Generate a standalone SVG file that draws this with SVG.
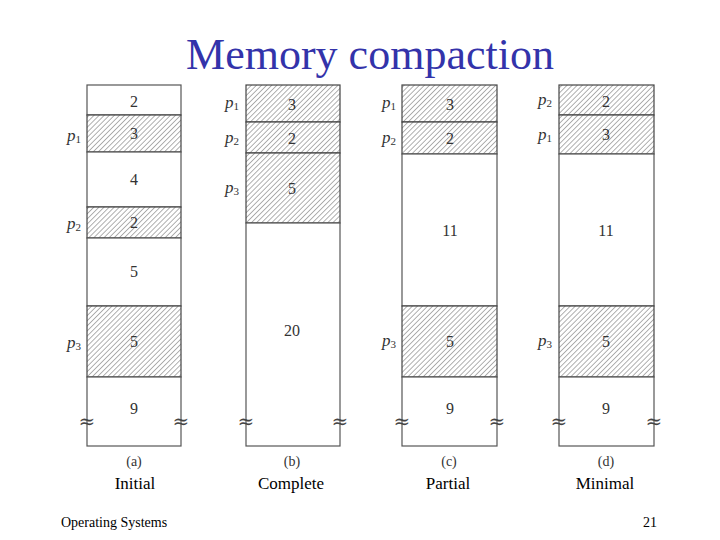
<svg xmlns="http://www.w3.org/2000/svg" width="720" height="540" viewBox="0 0 720 540">
  <defs>
    <pattern id="hatch" patternUnits="userSpaceOnUse" width="3.6" height="3.6" patternTransform="rotate(45)">
      <rect width="3.6" height="3.6" fill="#ffffff"/>
      <line x1="0" y1="0" x2="0" y2="3.6" stroke="#3a3a3a" stroke-width="0.8"/>
    </pattern>
  </defs>
  <style>
    .free { fill: #ffffff; stroke: #555555; stroke-width: 1.2; }
    .used { fill: url(#hatch); stroke: #444444; stroke-width: 1.2; }
    .num { font-family: "Liberation Serif", "Times New Roman", serif; font-size: 16px; fill: #333333; text-anchor: middle; }
    .p { font-family: "Liberation Serif", "Times New Roman", serif; font-size: 17px; font-style: italic; fill: #333333; text-anchor: end; }
    .sub { font-size: 11px; font-style: normal; }
    .brk { font-family: "DejaVu Serif", serif; font-size: 20px; fill: #444444; text-anchor: middle; }
    .cap { font-family: "Liberation Serif", "Times New Roman", serif; font-size: 14px; fill: #333333; text-anchor: middle; }
    .lbl { font-family: "Liberation Serif", "Times New Roman", serif; font-size: 17px; fill: #000000; text-anchor: middle; }
    .title { font-family: "Liberation Serif", "Times New Roman", serif; font-size: 44px; fill: #3333aa; text-anchor: middle; }
    .foot { font-family: "Liberation Serif", "Times New Roman", serif; font-size: 14px; fill: #000000; }
  </style>
  <rect width="720" height="540" fill="#ffffff"/>
  <text class="title" x="370" y="69">Memory compaction</text>

  <!-- Column (a) Initial -->
  <g id="col-a">
    <g id="a-2"><rect class="free" x="87" y="85" width="94" height="30"/><text class="num" x="134" y="107">2</text></g>
    <g id="a-p1"><rect class="used" x="87" y="115" width="94" height="37"/><text class="num" x="134" y="139">3</text><text class="p" x="81" y="141">p<tspan class="sub" dy="2">1</tspan></text></g>
    <g id="a-4"><rect class="free" x="87" y="152" width="94" height="55"/><text class="num" x="134" y="185">4</text></g>
    <g id="a-p2"><rect class="used" x="87" y="207" width="94" height="31"/><text class="num" x="134" y="228">2</text><text class="p" x="81" y="229">p<tspan class="sub" dy="2">2</tspan></text></g>
    <g id="a-5"><rect class="free" x="87" y="238" width="94" height="68"/><text class="num" x="134" y="277">5</text></g>
    <g id="a-p3"><rect class="used" x="87" y="306" width="94" height="71"/><text class="num" x="134" y="347">5</text><text class="p" x="81" y="348">p<tspan class="sub" dy="2">3</tspan></text></g>
    <g id="a-9"><rect class="free" x="87" y="377" width="94" height="69"/><text class="num" x="134" y="414">9</text>
      <text class="brk" x="87" y="428">≈</text><text class="brk" x="181" y="428">≈</text></g>
    <text class="cap" x="134" y="466">(a)</text>
    <text class="lbl" x="135" y="489">Initial</text>
  </g>

  <!-- Column (b) Complete -->
  <g id="col-b">
    <g id="b-p1"><rect class="used" x="246" y="85" width="94" height="37"/><text class="num" x="292" y="110">3</text><text class="p" x="239" y="108">p<tspan class="sub" dy="2">1</tspan></text></g>
    <g id="b-p2"><rect class="used" x="246" y="122" width="94" height="31"/><text class="num" x="292" y="144">2</text><text class="p" x="239" y="143">p<tspan class="sub" dy="2">2</tspan></text></g>
    <g id="b-p3"><rect class="used" x="246" y="153" width="94" height="70"/><text class="num" x="292" y="194">5</text><text class="p" x="239" y="193">p<tspan class="sub" dy="2">3</tspan></text></g>
    <g id="b-20"><rect class="free" x="246" y="223" width="94" height="223"/><text class="num" x="292" y="336">20</text>
      <text class="brk" x="246" y="428">≈</text><text class="brk" x="340" y="428">≈</text></g>
    <text class="cap" x="292" y="466">(b)</text>
    <text class="lbl" x="291" y="489">Complete</text>
  </g>

  <!-- Column (c) Partial -->
  <g id="col-c">
    <g id="c-p1"><rect class="used" x="402" y="85" width="95" height="37"/><text class="num" x="450" y="110">3</text><text class="p" x="396" y="108">p<tspan class="sub" dy="2">1</tspan></text></g>
    <g id="c-p2"><rect class="used" x="402" y="122" width="95" height="32"/><text class="num" x="450" y="144">2</text><text class="p" x="396" y="143">p<tspan class="sub" dy="2">2</tspan></text></g>
    <g id="c-11"><rect class="free" x="402" y="154" width="95" height="152"/><text class="num" x="450" y="236">11</text></g>
    <g id="c-p3"><rect class="used" x="402" y="306" width="95" height="71"/><text class="num" x="450" y="347">5</text><text class="p" x="396" y="346">p<tspan class="sub" dy="2">3</tspan></text></g>
    <g id="c-9"><rect class="free" x="402" y="377" width="95" height="69"/><text class="num" x="450" y="414">9</text>
      <text class="brk" x="402" y="428">≈</text><text class="brk" x="497" y="428">≈</text></g>
    <text class="cap" x="449" y="466">(c)</text>
    <text class="lbl" x="448" y="489">Partial</text>
  </g>

  <!-- Column (d) Minimal -->
  <g id="col-d">
    <g id="d-p2"><rect class="used" x="559" y="85" width="95" height="30"/><text class="num" x="606" y="107">2</text><text class="p" x="552" y="105">p<tspan class="sub" dy="2">2</tspan></text></g>
    <g id="d-p1"><rect class="used" x="559" y="115" width="95" height="39"/><text class="num" x="606" y="140">3</text><text class="p" x="552" y="140">p<tspan class="sub" dy="2">1</tspan></text></g>
    <g id="d-11"><rect class="free" x="559" y="154" width="95" height="152"/><text class="num" x="606" y="236">11</text></g>
    <g id="d-p3"><rect class="used" x="559" y="306" width="95" height="71"/><text class="num" x="606" y="347">5</text><text class="p" x="552" y="346">p<tspan class="sub" dy="2">3</tspan></text></g>
    <g id="d-9"><rect class="free" x="559" y="377" width="95" height="69"/><text class="num" x="606" y="414">9</text>
      <text class="brk" x="559" y="428">≈</text><text class="brk" x="654" y="428">≈</text></g>
    <text class="cap" x="606" y="466">(d)</text>
    <text class="lbl" x="605" y="489">Minimal</text>
  </g>

  <text class="foot" x="61" y="527">Operating Systems</text>
  <text class="foot" x="657" y="527" text-anchor="end">21</text>
</svg>
